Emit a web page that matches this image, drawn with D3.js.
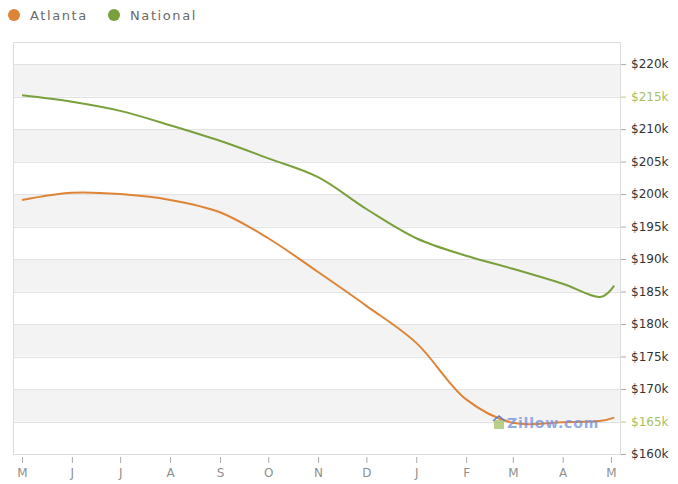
<!DOCTYPE html>
<html>
<head>
<meta charset="utf-8">
<script src="https://cdn.jsdelivr.net/npm/d3@7/dist/d3.min.js"></script>
<style>
  html, body { margin: 0; padding: 0; background: #fff; }
  svg { display: block; font-family: "DejaVu Sans", Verdana, sans-serif; }
</style>
</head>
<body>
<svg id="chart" width="678" height="484"></svg>
<script>
// Monthly median home values (thousands of dollars), May 2007 – May 2008
const dates = [
  "2007-05-01", "2007-06-01", "2007-07-01", "2007-08-01", "2007-09-01",
  "2007-10-01", "2007-11-01", "2007-12-01", "2008-01-01", "2008-02-01",
  "2008-03-01", "2008-04-01", "2008-04-25", "2008-05-03"
];
const atlanta = [199.1, 200.2, 200.0, 199.1, 197.2, 193.2, 188.0, 182.8, 177.1, 168.4, 164.8, 164.9, 165.1, 165.6];
const national = [215.2, 214.2, 212.8, 210.6, 208.2, 205.5, 202.6, 197.7, 193.2, 190.5, 188.5, 186.2, 184.2, 185.9];

const seriesNames = ["Atlanta", "National"];
const seriesColors = ["#dd8436", "#79a03c"];

const monthTicks = [
  "2007-05-01", "2007-06-01", "2007-07-01", "2007-08-01", "2007-09-01", "2007-10-01",
  "2007-11-01", "2007-12-01", "2008-01-01", "2008-02-01", "2008-03-01", "2008-04-01", "2008-05-01"
];
const monthLabels = ["M", "J", "J", "A", "S", "O", "N", "D", "J", "F", "M", "A", "M"];

const valueTicks = [160, 165, 170, 175, 180, 185, 190, 195, 200, 205, 210, 215, 220];
const highlightTicks = [215, 165];

const parse = d3.timeParse("%Y-%m-%d");
const svg = d3.select("#chart");

const plot = { left: 13, right: 620, top: 42, bottom: 454 };

const x = d3.scaleTime()
  .domain([parse(monthTicks[0]), parse(monthTicks[monthTicks.length - 1])])
  .range([22, 611]);

const y = d3.scaleLinear()
  .domain([160, 223.4])
  .range([plot.bottom, plot.top]);

// alternating horizontal bands
const bands = d3.pairs(valueTicks).filter((p, i) => (valueTicks.length - 2 - i) % 2 === 0);
svg.append("g").selectAll("rect").data(bands).join("rect")
  .attr("x", plot.left)
  .attr("width", plot.right - plot.left)
  .attr("y", d => y(d[1]))
  .attr("height", d => y(d[0]) - y(d[1]))
  .attr("fill", "#f3f3f3");

// grid lines
svg.append("g").selectAll("line").data(valueTicks.slice(1)).join("line")
  .attr("x1", plot.left).attr("x2", plot.right)
  .attr("y1", d => Math.round(y(d)) + 0.5).attr("y2", d => Math.round(y(d)) + 0.5)
  .attr("stroke", "#e2e2e2");

// plot frame
svg.append("rect")
  .attr("x", plot.left + 0.5).attr("y", plot.top + 0.5)
  .attr("width", plot.right - plot.left).attr("height", plot.bottom - plot.top)
  .attr("fill", "none").attr("stroke", "#dcdcdc");

// right value axis
const yAxis = d3.axisRight(y)
  .tickValues(valueTicks)
  .tickSize(5)
  .tickPadding(5)
  .tickFormat(d => "$" + d + "k");
const gy = svg.append("g")
  .attr("transform", `translate(${plot.right + 1},0)`)
  .call(yAxis);
gy.select(".domain").remove();
gy.selectAll(".tick line").attr("stroke", "#aaa");
gy.selectAll(".tick text")
  .attr("fill", d => highlightTicks.includes(d) ? "#a7bf62" : "#333")
  .attr("font-size", 12)
  .attr("font-family", "DejaVu Sans, Verdana, sans-serif");
gy.selectAll(".tick line").filter(d => highlightTicks.includes(d)).attr("stroke", "#b9cc86");

// bottom month axis
const xAxis = d3.axisBottom(x)
  .tickValues(monthTicks.map(parse))
  .tickSize(6)
  .tickPadding(5)
  .tickFormat((d, i) => monthLabels[i]);
const gx = svg.append("g")
  .attr("transform", `translate(0,${plot.bottom + 3})`)
  .call(xAxis);
gx.select(".domain").remove();
gx.selectAll(".tick line").attr("stroke", "#aaa");
gx.selectAll(".tick text")
  .attr("fill", "#8f8f8f")
  .attr("font-size", 12)
  .attr("font-family", "DejaVu Sans, Verdana, sans-serif");

// series lines
const line = d3.line()
  .x(d => x(d.date))
  .y(d => y(d.value))
  .curve(d3.curveCatmullRom.alpha(0.5));

[atlanta, national].forEach((vals, i) => {
  const pts = dates.map((d, j) => ({ date: parse(d), value: vals[j] }));
  svg.append("path")
    .datum(pts)
    .attr("d", line)
    .attr("fill", "none")
    .attr("stroke", seriesColors[i])
    .attr("stroke-width", 2)
    .attr("stroke-linejoin", "round");
});

// watermark
const wm = svg.append("g").attr("transform", "translate(494,428)");
wm.append("rect").attr("x", 0).attr("y", -8).attr("width", 10).attr("height", 9)
  .attr("fill", "#a9c36b").attr("opacity", 0.8);
wm.append("path").attr("d", "M-1,-7 L5,-12 L11,-7").attr("fill", "none")
  .attr("stroke", "#5c7fcf").attr("stroke-width", 1.5);
wm.append("text").attr("x", 13).attr("y", 0)
  .attr("font-size", 14).attr("font-weight", "bold")
  .attr("letter-spacing", 0.8)
  .attr("fill", "#7590da").attr("opacity", 0.75)
  .text("Zillow.com");

// legend
const legend = svg.append("g").attr("transform", "translate(14,15)");
const legendX = [0, 100];
seriesNames.forEach((name, i) => {
  const g = legend.append("g").attr("transform", `translate(${legendX[i]},0)`);
  g.append("circle").attr("r", 6).attr("fill", seriesColors[i]);
  g.append("text").attr("x", 16).attr("y", 5)
    .attr("font-size", 13).attr("letter-spacing", 1.6).attr("fill", "#6a6a6a")
    .text(name);
});
</script>
</body>
</html>
